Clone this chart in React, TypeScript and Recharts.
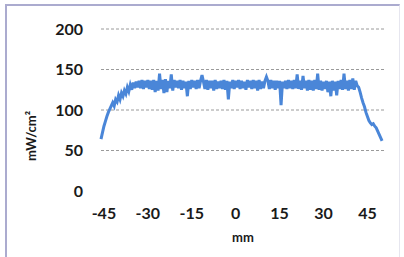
import { LineChart, Line, XAxis, YAxis, ReferenceLine } from "recharts";

// position along the strip, mm (0.5 mm steps)
const POSITIONS = [
  -46, -45.5, -45, -44.5, -44, -43.5, -43, -42.5, -42, -41.5, -41, -40.5, -40, -39.5, -39, -38.5, -38, -37.5, -37,
  -36.5, -36, -35.5, -35, -34.5, -34,
  -33.5, -33, -32.5, -32, -31.5, -31, -30.5, -30, -29.5, -29,
  -28.5, -28, -27.5, -27, -26.5, -26, -25.5, -25, -24.5, -24,
  -23.5, -23, -22.5, -22, -21.5, -21, -20.5, -20, -19.5, -19,
  -18.5, -18, -17.5, -17, -16.5, -16, -15.5, -15, -14.5, -14,
  -13.5, -13, -12.5, -12, -11.5, -11, -10.5, -10, -9.5, -9,
  -8.5, -8, -7.5, -7, -6.5, -6, -5.5, -5, -4.5, -4,
  -3.5, -3, -2.5, -2, -1.5, -1, -0.5, 0, 0.5, 1,
  1.5, 2, 2.5, 3, 3.5, 4, 4.5, 5, 5.5, 6,
  6.5, 7, 7.5, 8, 8.5, 9, 9.5, 10, 10.5, 11,
  11.5, 12, 12.5, 13, 13.5, 14, 14.5, 15, 15.5, 16,
  16.5, 17, 17.5, 18, 18.5, 19, 19.5, 20, 20.5, 21,
  21.5, 22, 22.5, 23, 23.5, 24, 24.5, 25, 25.5, 26,
  26.5, 27, 27.5, 28, 28.5, 29, 29.5, 30, 30.5, 31,
  31.5, 32, 32.5, 33, 33.5, 34, 34.5, 35, 35.5, 36,
  36.5, 37, 37.5, 38, 38.5, 39, 39.5, 40, 40.5, 41,
  41.5,
  42, 42.5, 43, 43.5, 44, 44.5, 45, 45.5, 46, 46.5, 47, 47.5, 48, 48.5, 49, 49.5, 50,
];

// mW/cm²
const IRRADIANCE = [
  64, 72, 80, 86, 92, 97, 101, 105, 109, 105, 113, 110, 118, 113, 121, 117, 124, 120, 128, 123, 131, 125, 134, 127,
  135,
  128, 136, 127, 137, 126, 136, 128, 137, 126, 136,
  125, 137, 122, 136, 124, 145, 126, 137, 121, 138,
  122, 136, 127, 144, 124, 137, 128, 136, 127, 137,
  125, 136, 127, 135, 117, 136, 126, 137, 128, 136,
  126, 137, 127, 136, 143, 135, 126, 137, 125, 136,
  127, 136, 124, 137, 126, 135, 127, 136, 126, 137,
  125, 136, 113, 135, 127, 137, 126, 136, 128, 137,
  126, 136, 127, 135, 125, 137, 128, 136, 126, 137,
  127, 136, 124, 137, 126, 135, 127, 136, 141, 136,
  126, 137, 127, 136, 125, 136, 127, 136, 106, 135,
  127, 136, 126, 137, 127, 136, 126, 137, 127, 144,
  126, 136, 125, 142, 127, 136, 124, 137, 125, 136,
  124, 137, 126, 145, 125, 136, 124, 135, 126, 136,
  122, 135, 117, 136, 124, 135, 118, 136, 126, 137,
  125, 145, 126, 136, 124, 137, 126, 139, 125, 136,
  130,
  128, 122, 115, 109, 104, 97, 92, 87, 84, 82, 83, 80, 78, 74, 70, 66, 62,
];

const X_TICKS = [-45, -30, -15, 0, 15, 30, 45];
const Y_TICKS = [0, 50, 100, 150, 200];
const GRID_VALUES = [50, 100, 150, 200];

const data = POSITIONS.map((x, i) => ({ x, y: IRRADIANCE[i] }));

const font = "Lato, 'Open Sans', sans-serif";

export default function App() {
  return (
    <div style={{ position: "absolute", left: 0, top: 0, width: 404, height: 257, background: "#fff", fontFamily: font }}>
      <div
        style={{
          position: "absolute",
          left: 5,
          top: 4,
          width: 392,
          height: 260,
          borderLeft: "2px solid #ababcf",
          borderTop: "2px solid #ababcf",
          borderRight: "1px solid #e6e6ef",
        }}
      />
      <LineChart width={404} height={257} data={data} margin={{ top: 29, right: 19, left: 0, bottom: 0 }}>
        {GRID_VALUES.map((v) => (
          <ReferenceLine key={v} y={v} stroke="#9a9a9a" strokeDasharray="3 2" strokeWidth={1} />
        ))}
        <XAxis
          dataKey="x"
          type="number"
          domain={[-46, 51]}
          ticks={X_TICKS}
          axisLine={false}
          tickLine={false}
          tickSize={0}
          tickMargin={17}
          height={66}
          tick={{ fill: "#1a1a1a", fontSize: 16, fontWeight: 700, fontFamily: font }}
          label={{ value: "mm", position: "insideBottom", offset: 15, fill: "#1a1a1a", fontSize: 13, fontWeight: 700 }}
        />
        <YAxis
          type="number"
          domain={[0, 200]}
          ticks={Y_TICKS}
          axisLine={false}
          tickLine={false}
          tickSize={0}
          tickMargin={18}
          width={101}
          tick={{ fill: "#1a1a1a", fontSize: 16, fontWeight: 700, fontFamily: font }}
          label={{
            content: () => (
              <text
                x={36}
                y={136}
                transform="rotate(-90 36 136)"
                textAnchor="middle"
                fill="#1a1a1a"
                fontSize={13}
                fontWeight={700}
                fontFamily={font}
              >
                mW/cm²
              </text>
            ),
          }}
        />
        <Line
          dataKey="y"
          stroke="#4a86d8"
          strokeWidth={3}
          dot={false}
          type="linear"
          isAnimationActive={false}
        />
      </LineChart>
    </div>
  );
}
